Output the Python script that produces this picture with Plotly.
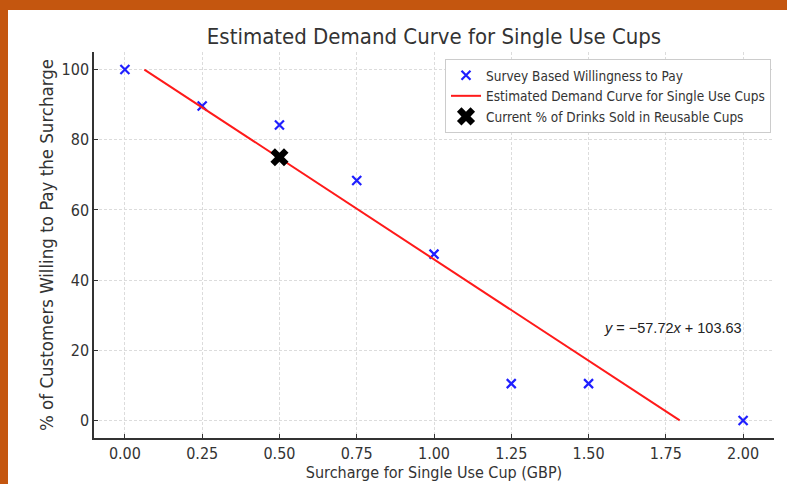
import plotly.graph_objects as go

# Data
survey_surcharge = [0.00, 0.25, 0.50, 0.75, 1.00, 1.25, 1.50, 2.00]
survey_pct = [100.0, 89.6, 84.2, 68.4, 47.4, 10.5, 10.5, 0.0]
fit_x = [0.063, 1.795]
fit_y = [100.0, 0.0]
current_x = [0.50]
current_y = [75.0]
x_ticks = [0.0, 0.25, 0.5, 0.75, 1.0, 1.25, 1.5, 1.75, 2.0]
x_tick_labels = ["0.00", "0.25", "0.50", "0.75", "1.00", "1.25", "1.50", "1.75", "2.00"]
y_ticks = [0, 20, 40, 60, 80, 100]
equation_text = "<i>y</i> = −57.72<i>x</i> + 103.63"
equation_pos = (1.773, 26.3)

FONT = "DejaVu Sans Condensed, Liberation Sans Narrow, DejaVu Sans, sans-serif"
W, H = 787, 484
ML, MR, MT, MB = 94, 13, 52, 46
PW, PH = W - ML - MR, H - MT - MB
ORANGE = "#c4560f"

fig = go.Figure()
fig.add_trace(go.Scatter(
    x=survey_surcharge, y=survey_pct, mode="markers",
    name="Survey Based Willingness to Pay",
    marker=dict(symbol="x-thin", size=9, color="#1f1fff",
                line=dict(width=2.2, color="#1f1fff")),
))
fig.add_trace(go.Scatter(
    x=fit_x, y=fit_y, mode="lines",
    name="Estimated Demand Curve for Single Use Cups",
    line=dict(color="#ff1a1a", width=2),
))
fig.add_trace(go.Scatter(
    x=current_x, y=current_y, mode="markers",
    name="Current % of Drinks Sold in Reusable Cups",
    marker=dict(symbol="x", size=16, color="black"),
))

fig.add_annotation(
    x=equation_pos[0], y=equation_pos[1], text=equation_text, showarrow=False,
    font=dict(family="Liberation Sans, Arial, sans-serif", size=14.5, color="#222"),
    xanchor="center", yanchor="middle",
)

axis_common = dict(
    showgrid=True, gridcolor="#dcdcdc", griddash="3px,2px", gridwidth=1,
    zeroline=False, showline=True, linecolor="#333", linewidth=1.5,
    ticks="inside", ticklen=4, tickcolor="#333", automargin=False,
    tickfont=dict(family=FONT, size=16, color="#333"),
)

fig.update_layout(
    width=W, height=H,
    margin=dict(l=ML, r=MR, t=MT, b=MB),
    paper_bgcolor="white", plot_bgcolor="white",
    font=dict(family=FONT, color="#333"),
    title=dict(text="Estimated Demand Curve for Single Use Cups",
               x=434 / W, xanchor="center", y=1 - 36 / H, yanchor="middle",
               font=dict(family=FONT, size=22, color="#333")),
    xaxis=dict(range=[-0.1, 2.1], tickvals=x_ticks, ticktext=x_tick_labels,
               title=dict(text="Surcharge for Single Use Cup (GBP)",
                          font=dict(family=FONT, size=16, color="#333"), standoff=5),
               **axis_common),
    yaxis=dict(range=[-5, 105], tickvals=y_ticks,
               title=dict(text="% of Customers Willing to Pay the Surcharge",
                          font=dict(family=FONT, size=18.5, color="#333"), standoff=3),
               **axis_common),
    legend=dict(x=(445 - ML) / PW, y=1 - (59 - MT) / PH, xanchor="left", yanchor="top",
                bgcolor="white", bordercolor="#cccccc", borderwidth=1,
                font=dict(family=FONT, size=13.5, color="#333"),
                itemwidth=30, tracegroupgap=0),
    showlegend=True,
)

# orange frame strips (top and left)
fig.add_shape(type="rect", xref="paper", yref="paper",
              x0=-ML / PW, x1=1 + MR / PW, y0=1 + (MT - 10) / PH, y1=1 + MT / PH,
              fillcolor=ORANGE, line=dict(width=0), layer="above")
fig.add_shape(type="rect", xref="paper", yref="paper",
              x0=-ML / PW, x1=-(ML - 8) / PW, y0=-MB / PH, y1=1 + MT / PH,
              fillcolor=ORANGE, line=dict(width=0), layer="above")

fig.write_html(
    "out.html",
    config={"displayModeBar": False},
    post_script="document.body.style.margin='0';document.body.style.overflow='hidden';",
)
